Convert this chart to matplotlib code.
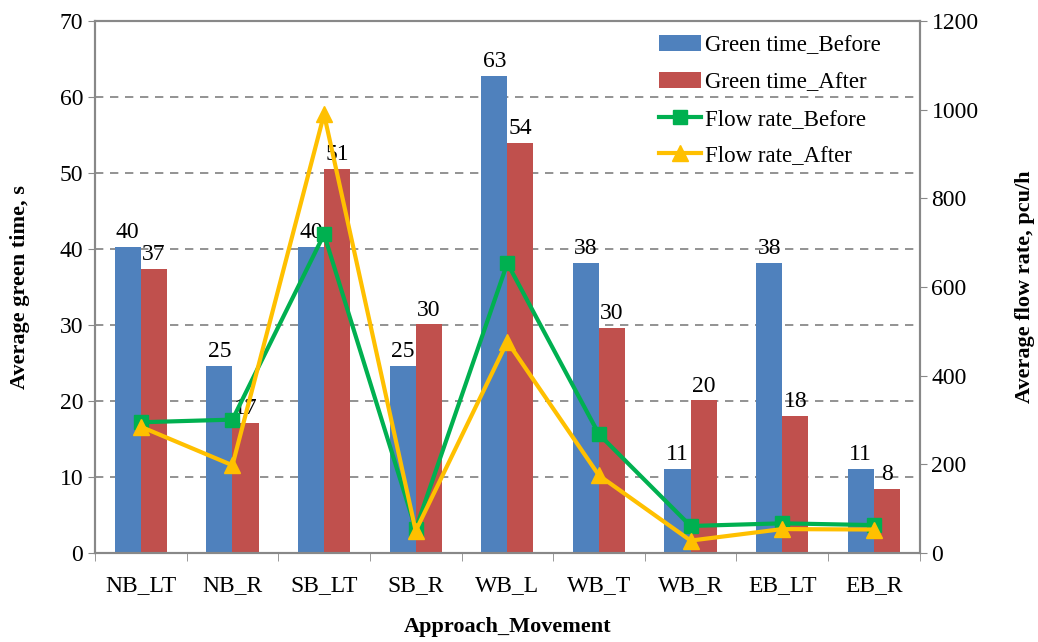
import matplotlib
matplotlib.use("Agg")
import matplotlib.pyplot as plt
import numpy as np

# Data
movements = ["NB_LT", "NB_R", "SB_LT", "SB_R", "WB_L", "WB_T", "WB_R", "EB_LT", "EB_R"]
green_before = [40.3, 24.6, 40.3, 24.6, 62.8, 38.2, 11.1, 38.2, 11.1]
green_after = [37.4, 17.1, 50.6, 30.1, 54.0, 29.6, 20.1, 18.0, 8.4]
flow_before = [295, 301, 719, 54, 654, 268, 61, 67, 63]
flow_after = [285, 198, 990, 50, 477, 175, 28, 54, 53]

BLUE = "#4F81BD"
RED = "#C0504D"
GREEN = "#00B050"
YELLOW = "#FFC000"
GREY = "#888888"

plt.rcParams["font.family"] = ["Liberation Serif", "DejaVu Serif"]

fig = plt.figure(figsize=(10.38, 6.42), dpi=100)
ax = fig.add_axes([0.0915, 0.1386, 0.7945, 0.8284])
ax2 = ax.twinx()

x = np.arange(len(movements))
w = 0.285
b1 = ax.bar(x - w / 2, green_before, w, color=BLUE, label="Green time_Before", zorder=2)
b2 = ax.bar(x + w / 2, green_after, w, color=RED, label="Green time_After", zorder=2)
for bars, vals in ((b1, green_before), (b2, green_after)):
    for r, v in zip(bars, vals):
        ax.text(r.get_x() + r.get_width() / 2, v + 0.5, f"{v:.0f}",
                ha="center", va="bottom", fontsize=17, zorder=3)

l1, = ax2.plot(x, flow_before, color=GREEN, lw=3, marker="s", ms=10,
               label="Flow rate_Before")
l2, = ax2.plot(x, flow_after, color=YELLOW, lw=3, marker="^", ms=12,
               label="Flow rate_After")

ax.set_xlim(-0.5, len(movements) - 0.5)
ax.set_ylim(0, 70)
ax.set_yticks(range(0, 71, 10))
ax2.set_ylim(0, 1200)
ax2.set_yticks(range(0, 1201, 200))

ax.set_xticks(x)
ax.set_xticklabels(movements, fontsize=17)
ax.set_xticks(np.arange(-0.5, len(movements)), minor=True)
ax.tick_params(axis="x", which="major", length=0, pad=16)
ax.tick_params(axis="x", which="minor", length=6, color=GREY, direction="out")
ax.tick_params(axis="y", labelsize=17, length=5, color=GREY)
ax2.tick_params(axis="y", labelsize=17, length=5, color=GREY)

ax.yaxis.grid(True, linestyle=(0, (5, 4)), color="#808080", lw=1.2, zorder=0)
ax.set_axisbelow(True)
for a in (ax, ax2):
    for s in a.spines.values():
        s.set_color(GREY)
        s.set_linewidth(1.5)

ax.set_ylabel("Average green time, s", fontsize=16, fontweight="bold", labelpad=21)
ax2.set_ylabel("Average flow rate, pcu/h", fontsize=16, fontweight="bold", labelpad=26)
ax.set_xlabel("Approach_Movement", fontsize=16, fontweight="bold", labelpad=15)

ax2.legend([b1, b2, l1, l2],
           ["Green time_Before", "Green time_After", "Flow rate_Before", "Flow rate_After"],
           loc="upper right", bbox_to_anchor=(0.978, 1.012), frameon=False,
           fontsize=16.5, handlelength=1.8, labelspacing=0.68, handletextpad=0.2)

fig.savefig("out.png", dpi=100)
